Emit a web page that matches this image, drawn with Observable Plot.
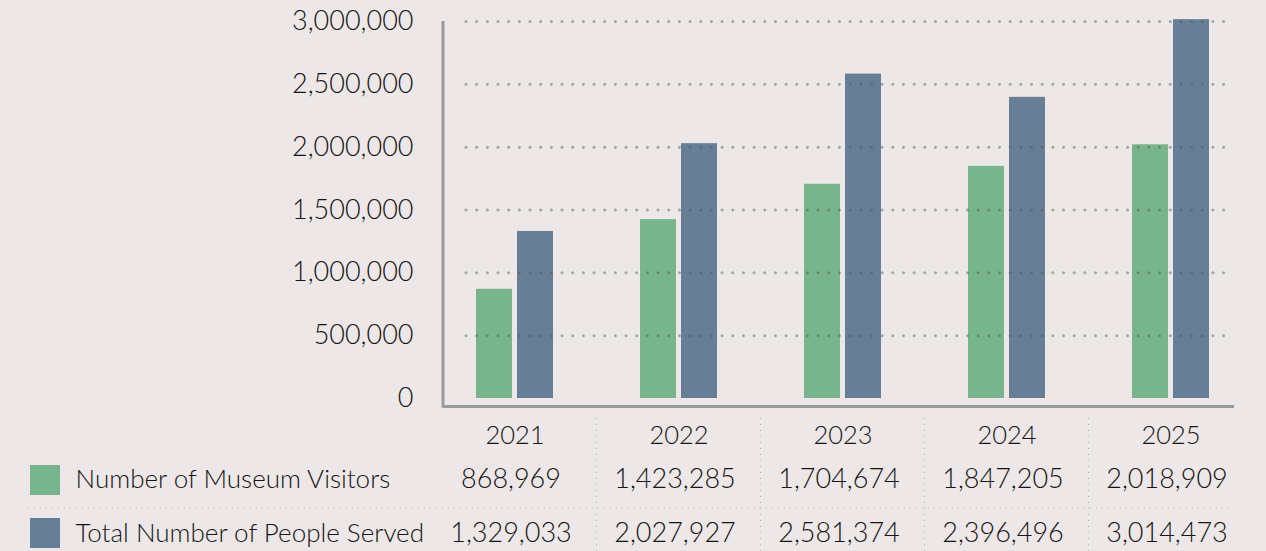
<!DOCTYPE html>
<html>
<head>
<meta charset="utf-8">
<script src="https://cdn.jsdelivr.net/npm/d3@7"></script>
<script src="https://cdn.jsdelivr.net/npm/@observablehq/plot@0.6"></script>
<style>
  html, body { margin: 0; padding: 0; background: #ede7e7; }
  #chart { width: 1266px; height: 551px; overflow: hidden; }
  #chart svg text { font-weight: 300; }
</style>
</head>
<body>
<div id="chart"></div>
<script>
const years = ["2021", "2022", "2023", "2024", "2025"];
const seriesNames = ["Number of Museum Visitors", "Total Number of People Served"];
const visitors = [868969, 1423285, 1704674, 1847205, 2018909];
const served = [1329033, 2027927, 2581374, 2396496, 3014473];
const yTicks = [0, 500000, 1000000, 1500000, 2000000, 2500000, 3000000];
const seriesColors = ["#77b58c", "#677f96"];

const fmt = d3.format(",");
const rows = [];
years.forEach((yr, i) => {
  rows.push({year: yr, series: seriesNames[0], value: visitors[i]});
  rows.push({year: yr, series: seriesNames[1], value: served[i]});
});
const rowsV = rows.filter(d => d.series === seriesNames[0]);
const rowsS = rows.filter(d => d.series === seriesNames[1]);

// decorations: y axis line, table separators, legend swatches
function decorations(index, scales, values, dims) {
  const ns = "http://www.w3.org/2000/svg";
  const g = document.createElementNS(ns, "g");
  const x = scales.x, y = scales.y;
  const bw = typeof x.bandwidth === "function" ? x.bandwidth() : (x.bandwidth || 0);
  const color = scales.color || (s => seriesColors[seriesNames.indexOf(s)]);
  const left = dims.marginLeft, right = dims.width - dims.marginRight;
  const zeroY = y(0);
  const line = (x1, y1, x2, y2, attrs) => {
    const l = document.createElementNS(ns, "line");
    l.setAttribute("x1", x1); l.setAttribute("y1", y1);
    l.setAttribute("x2", x2); l.setAttribute("y2", y2);
    for (const k in attrs) l.setAttribute(k, attrs[k]);
    g.appendChild(l);
  };
  // y axis line
  line(left, y(yTicks[yTicks.length - 1]), left, zeroY + 9.5, {stroke: "#9a9a9a", "stroke-width": 3});
  // table vertical separators between year columns
  const sep = {stroke: "#b8b2b2", "stroke-width": 1.2, "stroke-dasharray": "1,5"};
  for (let i = 0; i < years.length - 1; i++) {
    const mx = (x(years[i]) + x(years[i + 1])) / 2 + bw / 2;
    line(mx, zeroY + 20, mx, dims.height, sep);
  }
  // table horizontal separator between the two rows
  line(28, zeroY + 110, right, zeroY + 110, sep);
  // legend swatches
  [[seriesNames[0], 82], [seriesNames[1], 135]].forEach(([s, dy]) => {
    const r = document.createElementNS(ns, "rect");
    r.setAttribute("x", 30); r.setAttribute("y", zeroY + dy - 15);
    r.setAttribute("width", 30); r.setAttribute("height", 30);
    r.setAttribute("fill", color(s));
    g.appendChild(r);
  });
  return g;
}

const ink = "#151515";
const chart = Plot.plot({
  width: 1266,
  height: 551,
  marginLeft: 443,
  marginRight: 32,
  marginTop: 21,
  marginBottom: 153,
  style: {background: "#ede7e7", fontFamily: "Lato, 'Open Sans', sans-serif", fontSize: "27px", color: ink},
  x: {type: "band", domain: years, range: [432.5, 1252.5], paddingInner: 0.5305, paddingOuter: 0.265, axis: null},
  y: {domain: [0, 3000000], axis: null, label: null},
  color: {domain: seriesNames, range: seriesColors},
  marks: [
    Plot.axisY({ticks: yTicks, tickFormat: fmt, tickSize: 0, tickPadding: 30, fontSize: 27, fill: ink, label: null}),
    Plot.barY(rowsV, {x: "year", y: "value", fill: "series", insetRight: 41}),
    Plot.barY(rowsS, {x: "year", y: "value", fill: "series", insetLeft: 41}),
    Plot.ruleY(yTicks.filter(d => d > 0), {stroke: "#505050", strokeOpacity: 0.45, strokeWidth: 3, strokeDasharray: "0,10.67", strokeLinecap: "round", insetLeft: 23}),
    Plot.ruleY([0], {dy: 8, stroke: "#9a9a9a", strokeWidth: 3}),
    decorations,
    Plot.text(years, {x: d => d, text: d => d, frameAnchor: "bottom", dy: 45, fontSize: 25.5, fill: ink}),
    Plot.text(rowsV, {x: "year", text: d => fmt(d.value), frameAnchor: "bottom", dy: 89, fontSize: 27, fill: ink, dx: -4}),
    Plot.text(rowsS, {x: "year", text: d => fmt(d.value), frameAnchor: "bottom", dy: 143, fontSize: 27, fill: ink, dx: -4}),
    Plot.text([seriesNames[0]], {text: d => d, frameAnchor: "bottom-left", textAnchor: "start", dx: -368, dy: 89, fontSize: 26, fill: ink}),
    Plot.text([seriesNames[1]], {text: d => d, frameAnchor: "bottom-left", textAnchor: "start", dx: -368, dy: 143, fontSize: 26, fill: ink})
  ]
});
document.getElementById("chart").appendChild(chart);
</script>
</body>
</html>
